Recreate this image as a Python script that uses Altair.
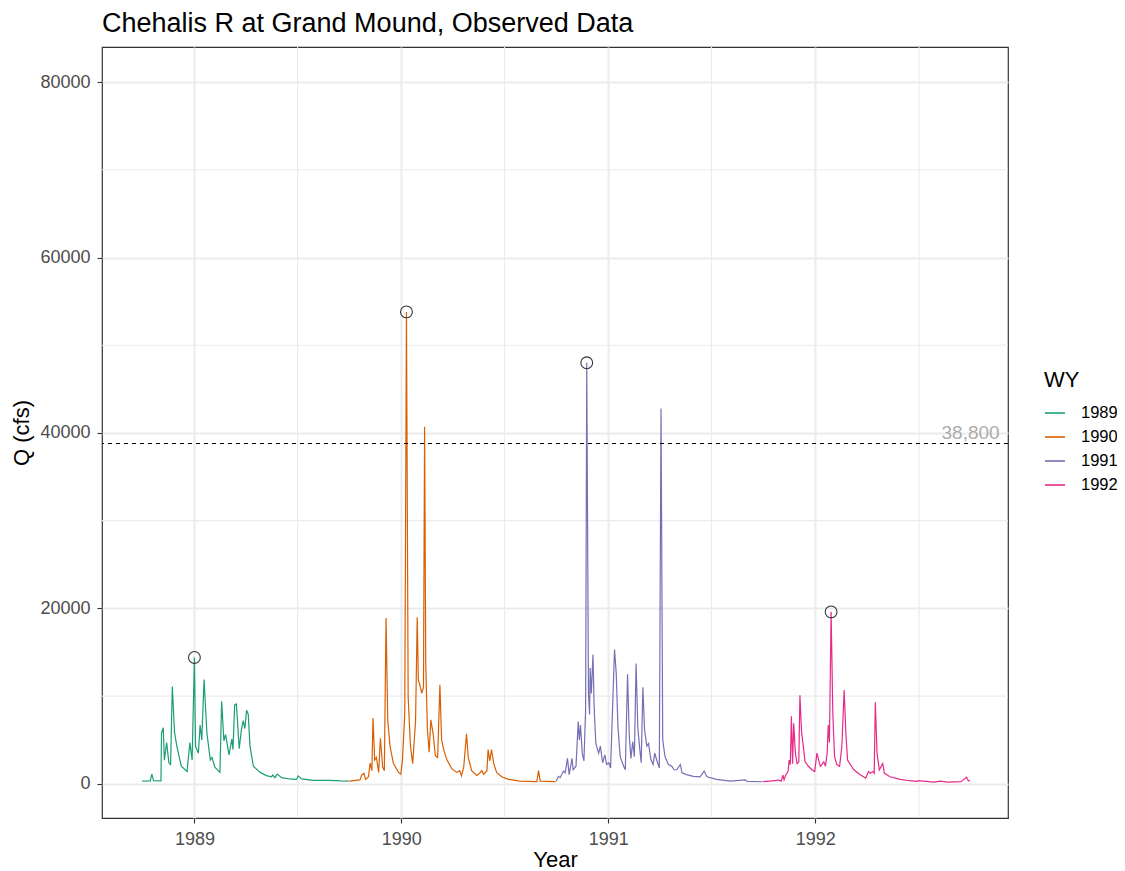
import altair as alt
import pandas as pd

# ---------------- data ----------------
wy1989_dates = ["1988-10-01","1988-10-15","1988-10-18","1988-10-21","1988-11-03","1988-11-04","1988-11-07",
    "1988-11-09","1988-11-13","1988-11-17","1988-11-20","1988-11-23","1988-11-27","1988-12-01","1988-12-06",
    "1988-12-09","1988-12-19","1988-12-24","1988-12-28","1989-01-01","1989-01-03","1989-01-08","1989-01-11",
    "1989-01-14","1989-01-18","1989-01-23","1989-01-29","1989-02-01","1989-02-06","1989-02-15","1989-02-18",
    "1989-02-22","1989-02-25","1989-03-03","1989-03-08","1989-03-10","1989-03-13","1989-03-16","1989-03-21",
    "1989-03-25","1989-03-28","1989-03-31","1989-04-03","1989-04-06","1989-04-09","1989-04-15","1989-04-27",
    "1989-05-08","1989-05-17","1989-05-19","1989-05-23","1989-05-27","1989-06-04","1989-06-18","1989-06-30",
    "1989-07-03","1989-07-09","1989-07-30","1989-08-28","1989-09-15","1989-09-30"]
wy1989_q = [300,320,1100,350,330,5800,6400,
    2700,4700,2400,2200,11100,5800,4300,2800,
    2000,1400,4700,2700,14400,4250,3500,6700,
    5000,11900,5800,2700,3000,1900,1300,9400,
    4900,5600,3300,5100,3900,9000,9100,4000,
    6200,7200,6300,8400,7900,4300,2000,1300,
    930,800,1000,700,1100,700,550,500,
    900,550,400,400,330,300]

wy1990_dates = ["1989-10-01","1989-10-20","1989-10-23","1989-10-27","1989-10-30","1989-11-04","1989-11-07",
    "1989-11-10","1989-11-12","1989-11-15","1989-11-18","1989-11-22","1989-11-25","1989-11-29","1989-12-02",
    "1989-12-05","1989-12-08","1989-12-12","1989-12-18","1989-12-27","1989-12-31","1990-01-03","1990-01-07",
    "1990-01-10","1990-01-13","1990-01-17","1990-01-21","1990-01-24","1990-01-26","1990-01-29","1990-01-31",
    "1990-02-03","1990-02-06","1990-02-09","1990-02-11","1990-02-13","1990-02-16","1990-02-19","1990-02-22",
    "1990-02-26","1990-03-02","1990-03-06","1990-03-10","1990-03-13","1990-03-17","1990-03-22","1990-03-31",
    "1990-04-09","1990-04-14","1990-04-17","1990-04-21","1990-04-26","1990-04-29","1990-05-05","1990-05-14",
    "1990-05-19","1990-05-23","1990-05-26","1990-06-01","1990-06-03","1990-06-06","1990-06-09","1990-06-13",
    "1990-06-18","1990-06-27","1990-07-09","1990-07-29","1990-08-28","1990-08-31","1990-09-03","1990-09-30"]
wy1990_q = [300,450,1000,1200,500,800,2350,
    1500,7500,2700,3000,1300,5200,1900,1500,
    18900,7300,4300,2300,1300,1100,2700,8000,
    53800,9900,4300,2300,5200,7000,19000,11800,
    11200,10300,11000,40700,13700,6100,3600,7300,
    5700,3200,3000,11300,5000,3800,2800,1700,
    1300,1500,900,1900,5700,3000,1500,950,
    1200,1500,1100,1500,3900,2600,3900,2300,
    1300,800,500,300,250,1500,300,250]

wy1991_dates = ["1990-10-01","1990-10-05","1990-10-08","1990-10-14","1990-10-17","1990-10-21","1990-10-24",
    "1990-10-29","1990-10-31","1990-11-05","1990-11-09","1990-11-11","1990-11-13","1990-11-16","1990-11-19",
    "1990-11-22","1990-11-24","1990-11-27","1990-11-29","1990-11-30","1990-12-02","1990-12-05","1990-12-07",
    "1990-12-10","1990-12-15","1990-12-18","1990-12-22","1990-12-26","1990-12-29","1991-01-02","1991-01-05",
    "1991-01-08","1991-01-12","1991-01-15","1991-01-18","1991-01-22","1991-01-28","1991-01-31","1991-02-04",
    "1991-02-07","1991-02-10","1991-02-13","1991-02-16","1991-02-19","1991-02-22","1991-02-25","1991-02-28",
    "1991-03-03","1991-03-06","1991-03-10","1991-03-13","1991-03-17","1991-03-21","1991-03-24","1991-03-27",
    "1991-04-01","1991-04-04","1991-04-07","1991-04-11","1991-04-17","1991-04-23","1991-04-27","1991-05-02",
    "1991-05-08","1991-05-11","1991-05-19","1991-05-31","1991-06-12","1991-06-19","1991-06-24","1991-07-11",
    "1991-08-04","1991-08-31","1991-09-03","1991-09-30"]
wy1991_q = [300,850,700,1450,1250,2900,1050,
    2900,1600,2000,7100,5000,6700,3500,2600,
    8400,48000,10300,7900,13200,10300,14700,8800,
    4600,3500,4300,2400,3300,2200,2400,1800,
    7500,15300,12600,6500,3100,2000,1600,12500,
    5400,2900,4800,3100,13700,6500,4300,2400,
    11000,6100,4300,4600,2800,2200,3500,2800,
    1800,42800,5000,3100,2200,2000,1600,1600,
    2200,1250,1050,850,800,1450,800,500,
    300,450,280,230]

wy1992_dates = ["1991-10-01","1991-10-22","1991-10-28","1991-11-02","1991-11-05","1991-11-07","1991-11-10",
    "1991-11-14","1991-11-16","1991-11-18","1991-11-20","1991-11-22","1991-11-24","1991-11-27","1991-11-30",
    "1991-12-03","1991-12-05","1991-12-08","1991-12-11","1991-12-14","1991-12-20","1991-12-26","1991-12-31",
    "1992-01-04","1992-01-07","1992-01-10","1992-01-13","1992-01-16","1992-01-19","1992-01-22","1992-01-24",
    "1992-01-26","1992-01-29","1992-02-01","1992-02-04","1992-02-08","1992-02-13","1992-02-17","1992-02-21",
    "1992-02-24","1992-02-27","1992-03-03","1992-03-09","1992-03-21","1992-03-30","1992-04-04","1992-04-07",
    "1992-04-12","1992-04-14","1992-04-16","1992-04-19","1992-04-23","1992-04-29","1992-05-02","1992-05-12",
    "1992-05-30","1992-06-16","1992-06-28","1992-07-01","1992-07-28","1992-08-09","1992-08-21","1992-09-14",
    "1992-09-24","1992-09-27","1992-09-30"]
wy1992_q = [250,350,450,300,1000,450,1000,
    1400,2700,2200,7700,2300,6900,3500,2300,
    2500,10100,5800,4300,2500,2000,1600,1400,
    3500,2700,2000,2200,2500,2000,3500,6700,
    4700,19600,8100,3100,2200,2000,4300,10700,
    5800,2700,2200,1600,1000,650,1400,1200,
    1400,1200,9300,3500,1600,2300,1200,800,
    500,350,280,350,200,300,200,250,
    760,350,350]

wy_labels = ["1989", "1990", "1991", "1992"]
wy_colors = ["#1B9E77", "#D95F02", "#7570B3", "#E7298A"]

peak_dates = ["1989-01-01", "1990-01-10", "1990-11-24", "1992-01-29"]
peak_q = [14400, 53800, 48000, 19600]

threshold = 38800
threshold_label = "38,800"
threshold_label_date = "1992-10-01"
threshold_label_q = 40000

y_major = [0, 20000, 40000, 60000, 80000]
y_minor = [10000, 30000, 50000, 70000]
x_major_years = [1989, 1990, 1991, 1992]
x_minor_dates = ["1989-07-02", "1990-07-02", "1991-07-02", "1992-07-02"]

# ---------------- tables ----------------
rows = []
for wy, ds, qs in zip(wy_labels, [wy1989_dates, wy1990_dates, wy1991_dates, wy1992_dates],
                      [wy1989_q, wy1990_q, wy1991_q, wy1992_q]):
    for d, q in zip(ds, qs):
        rows.append({"date": d, "Q": q, "WY": wy})
flow = pd.DataFrame(rows)
flow["date"] = pd.to_datetime(flow["date"])

peaks = pd.DataFrame({"date": pd.to_datetime(peak_dates), "Q": peak_q})
minor_x = pd.DataFrame({"date": pd.to_datetime(x_minor_dates)})
minor_y = pd.DataFrame({"Q": y_minor})
thr = pd.DataFrame({"Q": [threshold]})
lab = pd.DataFrame({"date": pd.to_datetime([threshold_label_date]), "Q": [threshold_label_q],
                    "text": [threshold_label]})

FONT = "Liberation Sans"
GRID = "#EBEBEB"

x_scale = alt.Scale(domain=[alt.DateTime(year=1988, month=7, date=22),
                            alt.DateTime(year=1992, month=12, date=6)])
y_scale = alt.Scale(domain=[-3900, 84000], nice=False, zero=False)

x_axis = alt.Axis(title="Year", values=[alt.DateTime(year=y, month=1, date=1) for y in x_major_years],
                  format="%Y", labelPadding=7, titleY=48, titleBaseline="alphabetic",
                  titleX=453, titleAnchor="middle")
y_axis = alt.Axis(title="Q (cfs)", values=y_major, format="d", labelPadding=7,
                  titleX=-81, titleY=385.5, titleBaseline="middle", titleAngle=-90)

X = alt.X("date:T", scale=x_scale, axis=x_axis)
Y = alt.Y("Q:Q", scale=y_scale, axis=y_axis)

minor_x_layer = alt.Chart(minor_x).mark_rule(color=GRID, strokeWidth=1.1).encode(x=X)
minor_y_layer = alt.Chart(minor_y).mark_rule(color=GRID, strokeWidth=1.1).encode(y=Y)

lines = alt.Chart(flow).mark_line(strokeWidth=1.2).encode(
    x=X, y=Y,
    color=alt.Color("WY:N", scale=alt.Scale(domain=wy_labels, range=wy_colors),
                    legend=alt.Legend(title="WY", orient="none", legendX=942, legendY=323,
                                      symbolType="stroke", symbolSize=400, symbolStrokeWidth=1.6,
                                      labelOffset=15, rowPadding=4, titlePadding=10,
                                      labelFontSize=16.5, titleFontSize=22, labelColor="black",
                                      titleColor="black", labelFont=FONT, titleFont=FONT,
                                      titleFontWeight="normal")),
    detail="WY:N",
)

rule = alt.Chart(thr).mark_rule(color="black", strokeDash=[4, 4], strokeWidth=1.1).encode(y=Y)

text = alt.Chart(lab).mark_text(font=FONT, fontSize=19, color="#ABABAB", align="center",
                                baseline="middle").encode(x=X, y=Y, text="text:N")

circles = alt.Chart(peaks).mark_point(shape="circle", size=140, filled=False, color="#333333",
                                      strokeWidth=1.1, opacity=1).encode(x=X, y=Y)

chart = alt.layer(minor_x_layer, minor_y_layer, lines, rule, text, circles).properties(
    width=906, height=771,
    autosize=alt.AutoSizeParams(type="none"),
    padding={"left": 94, "top": 39, "right": 109, "bottom": 54},
    title=alt.TitleParams("Chehalis R at Grand Mound, Observed Data", anchor="start", frame="group",
                          fontSize=27, font=FONT, fontWeight="normal", color="black", offset=8),
).configure_view(
    stroke="#333333", strokeWidth=1.2
).configure_axis(
    grid=True, gridColor=GRID, gridWidth=2.0, domain=False,
    tickColor="#333333", tickSize=5, tickWidth=1.1,
    labelFont=FONT, labelFontSize=18, labelColor="#4D4D4D",
    titleFont=FONT, titleFontSize=22, titleFontWeight="normal", titleColor="black",
)

chart.save("out.html", embed_options={"renderer": "svg", "actions": False})
